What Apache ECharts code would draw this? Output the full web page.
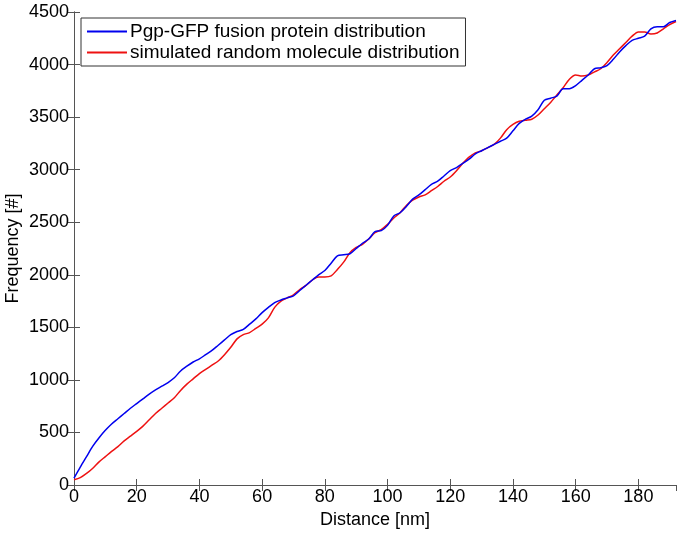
<!DOCTYPE html>
<html><head><meta charset="utf-8">
<script src="https://cdn.jsdelivr.net/npm/echarts@6/dist/echarts.min.js"></script>
<style>html,body{margin:0;padding:0;background:#fff}#c{width:682px;height:537px}</style>
</head><body><div id="c"></div>
<script>
const distance = [0,2,4,6,8,10,12,14,16,18,20,22,24,26,28,30,32,34,36,38,40,42,44,46,48,50,52,54,56,58,60,62,64,66,68,70,72,74,76,78,80,82,84,86,88,90,92,94,96,98,100,102,104,106,108,110,112,114,116,118,120,122,124,126,128,130,132,134,136,138,140,142,144,146,148,150,152,154,156,158,160,162,164,166,168,170,172,174,176,178,180,182,184,186,188,190,192];
const pgpGfp = [65,170,270,370,450,520,580,630,680,730,775,820,865,905,940,975,1020,1085,1130,1170,1200,1240,1280,1330,1380,1430,1460,1480,1530,1580,1640,1690,1735,1760,1780,1800,1850,1900,1950,2000,2040,2110,2180,2190,2200,2250,2300,2340,2410,2420,2470,2560,2590,2650,2720,2760,2810,2860,2890,2940,2990,3020,3060,3100,3150,3180,3210,3240,3270,3300,3370,3440,3480,3510,3570,3660,3680,3700,3770,3770,3800,3850,3900,3960,3970,3990,4050,4120,4180,4230,4250,4270,4340,4360,4360,4400,4420];
const simulated = [50,70,110,160,220,270,320,365,420,465,510,560,620,680,730,780,830,900,960,1010,1060,1100,1140,1180,1240,1310,1390,1430,1450,1490,1530,1590,1690,1750,1780,1810,1860,1900,1950,1980,1980,1990,2050,2120,2210,2260,2290,2340,2400,2430,2480,2540,2590,2660,2710,2740,2760,2800,2840,2890,2930,2990,3060,3120,3160,3180,3210,3240,3300,3380,3430,3460,3470,3480,3520,3580,3640,3710,3780,3860,3900,3890,3900,3930,3960,4020,4090,4150,4210,4270,4310,4310,4290,4300,4340,4380,4410];
const seriesNames = ['Pgp-GFP fusion protein distribution','simulated random molecule distribution'];

const chart = echarts.init(document.getElementById('c'));
const font = 'Liberation Sans, Arial, sans-serif';
const axisCol = '#555555';
const pairs = arr => distance.map((d,i)=>[d,arr[i]]);
chart.setOption({
  animation:false,
  backgroundColor:'#fff',
  grid:{left:74,right:6,top:12,bottom:52,containLabel:false,outerBoundsMode:'none'},
  legend:{
    orient:'vertical', left:81, top:18, itemWidth:40, itemHeight:2, itemGap:2,
    padding:[4,6,4,6],
    borderColor:'#333', borderWidth:1, backgroundColor:'#fff',
    textStyle:{fontFamily:font,fontSize:19,color:'#000',padding:[0,0,0,-2]},
    data:seriesNames.map(n=>({name:n,icon:'rect'}))
  },
  xAxis:[{
    type:'value', min:0, max:192, interval:20,
    name:'Distance [nm]', nameLocation:'middle', nameGap:26, nameMoveOverlap:false,
    nameTextStyle:{fontFamily:font,fontSize:18,color:'#000'},
    axisLine:{show:true,onZero:false,lineStyle:{color:axisCol}},
    axisTick:{inside:true,length:6,lineStyle:{color:axisCol}},
    axisLabel:{fontFamily:font,fontSize:18,color:'#000',margin:3,
      showMaxLabel:false, formatter:v=> v>180?'':String(v)},
    splitLine:{show:false}
  },{
    type:'value', min:0, max:192, interval:20, position:'top',
    axisLine:{show:true,lineStyle:{color:axisCol}},
    axisTick:{inside:true,length:6,lineStyle:{color:axisCol}},
    axisLabel:{show:false}, splitLine:{show:false}
  }],
  yAxis:[{
    type:'value', min:0, max:4500, interval:500,
    name:'Frequency [#]', nameLocation:'middle', nameGap:52, nameRotate:90, nameMoveOverlap:false,
    nameTextStyle:{fontFamily:font,fontSize:18,color:'#000'},
    axisLine:{show:true,lineStyle:{color:axisCol}},
    axisTick:{inside:true,length:6,lineStyle:{color:axisCol}},
    axisLabel:{fontFamily:font,fontSize:18,color:'#000',margin:5,formatter:v=>String(v)},
    splitLine:{show:false}
  },{
    type:'value', min:0, max:4500, interval:500, position:'right',
    axisLine:{show:true,lineStyle:{color:axisCol}},
    axisTick:{inside:true,length:6,lineStyle:{color:axisCol}},
    axisLabel:{show:false}, splitLine:{show:false}
  }],
  series:[
    {name:seriesNames[0],type:'line',data:pairs(pgpGfp),showSymbol:false,smooth:0.3,
     color:'#0000ee',lineStyle:{width:1.5,color:'#0000ee'},z:3},
    {name:seriesNames[1],type:'line',data:pairs(simulated),showSymbol:false,smooth:0.3,
     color:'#ee1111',lineStyle:{width:1.5,color:'#ee1111'},z:2}
  ]
});
</script></body></html>
